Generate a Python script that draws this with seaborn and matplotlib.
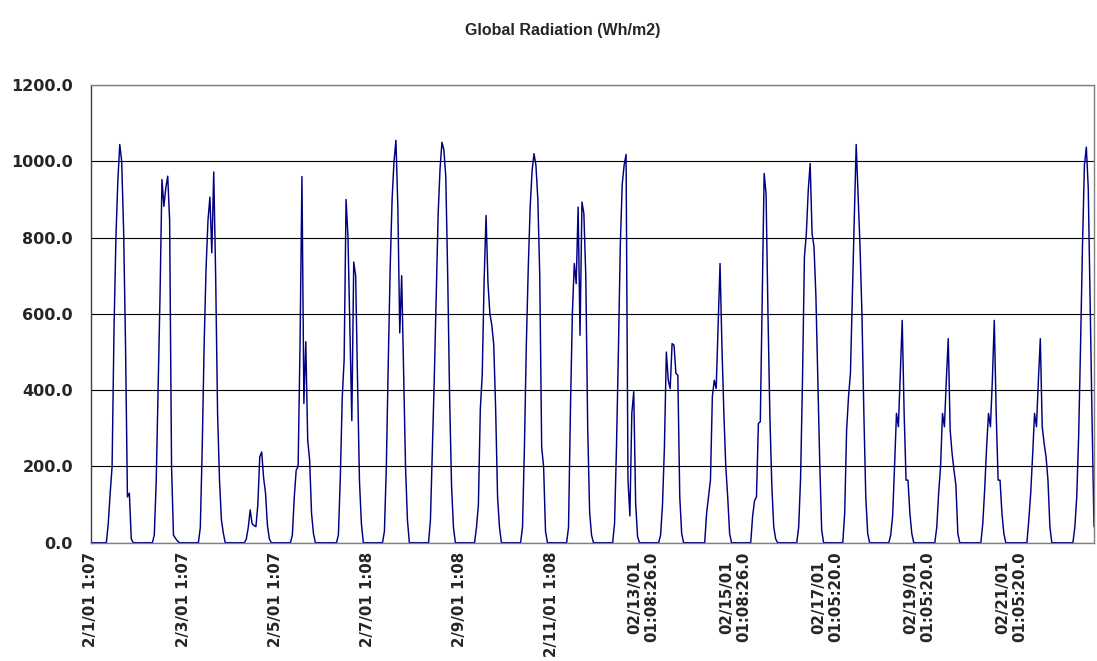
import numpy as np
import pandas as pd
import matplotlib
matplotlib.use("Agg")
import matplotlib.pyplot as plt
import seaborn as sns
from matplotlib.ticker import FormatStrFormatter

# Hourly global radiation (Wh/m2), one list of 24 readings per day starting at ~01:07
feb01 = [0, 0, 0, 0, 0, 0, 0, 0, 0, 50, 130, 200, 560, 800, 950, 1044, 1000, 820, 520, 120, 130, 10, 0, 0]
feb02 = [0, 0, 0, 0, 0, 0, 0, 0, 0, 20, 160, 400, 650, 952, 882, 930, 961, 845, 200, 20, 12, 5, 0, 0]
feb03 = [0, 0, 0, 0, 0, 0, 0, 0, 0, 40, 250, 520, 720, 845, 906, 760, 972, 700, 340, 165, 60, 25, 0, 0]
feb04 = [0, 0, 0, 0, 0, 0, 0, 0, 0, 10, 40, 86, 50, 45, 42, 100, 225, 238, 170, 130, 45, 10, 0, 0]
feb05 = [0, 0, 0, 0, 0, 0, 0, 0, 0, 20, 120, 190, 200, 520, 960, 365, 527, 269, 217, 77, 24, 0, 0, 0]
feb06 = [0, 0, 0, 0, 0, 0, 0, 0, 0, 20, 170, 380, 480, 900, 800, 560, 320, 736, 700, 420, 160, 50, 0, 0]
feb07 = [0, 0, 0, 0, 0, 0, 0, 0, 0, 30, 200, 470, 720, 900, 1000, 1055, 880, 550, 700, 450, 200, 60, 0, 0]
feb08 = [0, 0, 0, 0, 0, 0, 0, 0, 0, 60, 240, 430, 650, 860, 980, 1050, 1030, 960, 700, 380, 150, 40, 0, 0]
feb09 = [0, 0, 0, 0, 0, 0, 0, 0, 0, 40, 100, 350, 440, 690, 858, 680, 600, 570, 520, 350, 120, 40, 0, 0]
feb10 = [0, 0, 0, 0, 0, 0, 0, 0, 0, 40, 250, 520, 720, 880, 975, 1020, 990, 900, 700, 250, 200, 30, 0, 0]
feb11 = [0, 0, 0, 0, 0, 0, 0, 0, 0, 40, 350, 600, 732, 679, 880, 544, 893, 863, 700, 300, 80, 20, 0, 0]
feb12 = [0, 0, 0, 0, 0, 0, 0, 0, 0, 50, 250, 500, 780, 940, 990, 1018, 164, 70, 339, 396, 103, 16, 0, 0]
feb13 = [0, 0, 0, 0, 0, 0, 0, 0, 0, 20, 100, 250, 500, 426, 404, 522, 518, 444, 439, 120, 24, 0, 0, 0]
feb14 = [0, 0, 0, 0, 0, 0, 0, 0, 0, 77, 120, 164, 383, 426, 404, 570, 732, 513, 339, 200, 120, 24, 0, 0]
feb15 = [0, 0, 0, 0, 0, 0, 0, 0, 0, 70, 110, 120, 313, 317, 650, 968, 915, 600, 330, 150, 42, 10, 0, 0]
feb16 = [0, 0, 0, 0, 0, 0, 0, 0, 0, 40, 170, 426, 749, 810, 924, 994, 810, 776, 645, 426, 208, 33, 0, 0]
feb17 = [0, 0, 0, 0, 0, 0, 0, 0, 0, 77, 295, 383, 444, 650, 850, 1044, 906, 776, 600, 339, 120, 24, 0, 0]
feb18 = [0, 0, 0, 0, 0, 0, 0, 0, 0, 20, 70, 200, 339, 304, 440, 583, 339, 164, 164, 77, 24, 0, 0, 0]
feb19 = [0, 0, 0, 0, 0, 0, 0, 0, 0, 40, 130, 200, 339, 304, 426, 535, 295, 234, 190, 150, 24, 0, 0, 0]
feb20 = [0, 0, 0, 0, 0, 0, 0, 0, 0, 50, 140, 250, 339, 304, 426, 583, 339, 164, 164, 77, 24, 0, 0, 0]
feb21 = [0, 0, 0, 0, 0, 0, 0, 0, 0, 59, 130, 230, 339, 304, 426, 535, 304, 260, 225, 164, 42, 0, 0, 0]
feb22 = [0, 0, 0, 0, 0, 0, 0, 0, 0, 40, 120, 280, 520, 780, 990, 1037, 930, 620, 320, 42]

date_labels = [
    "2/1/01 1:07", "2/3/01 1:07", "2/5/01 1:07", "2/7/01 1:08",
    "2/9/01 1:08", "2/11/01 1:08",
    "02/13/01\n01:08:26.0", "02/15/01\n01:08:26.0", "02/17/01\n01:05:20.0",
    "02/19/01\n01:05:20.0", "02/21/01\n01:05:20.0",
]

days = [feb01, feb02, feb03, feb04, feb05, feb06, feb07, feb08, feb09, feb10, feb11,
        feb12, feb13, feb14, feb15, feb16, feb17, feb18, feb19, feb20, feb21, feb22]
radiation = np.concatenate([np.asarray(d, dtype=float) for d in days])
df = pd.DataFrame({"reading": np.arange(len(radiation)), "radiation": radiation})

sns.set_style("white")
plt.rcParams["font.family"] = ["DejaVu Sans"]

fig = plt.figure(figsize=(10.97, 6.61), dpi=100)
W, H = 1097, 661
ax = fig.add_axes([91 / W, 1 - 542.7 / H, (1094 - 91) / W, (542.7 - 85) / H])

sns.lineplot(data=df, x="reading", y="radiation", ax=ax, color="#000080",
             linewidth=1.05, errorbar=None)

ax.set_xlim(0, len(radiation) - 1)
ax.set_ylim(0, 1200)
ax.set_yticks(np.arange(0, 1201, 200))
ax.yaxis.set_major_formatter(FormatStrFormatter("%.1f"))

# one tick per day, a label on every second day
day_ticks = np.arange(0, len(days) * 24, 24)
ax.set_xticks(day_ticks)
labels = []
for i in range(len(day_ticks)):
    labels.append(date_labels[i // 2] if i % 2 == 0 else "")
ax.set_xticklabels(labels, rotation=90, ha="center", va="top",
                   multialignment="center")

ax.yaxis.grid(True, color="black", linewidth=0.8)
ax.xaxis.grid(False)
ax.set_axisbelow(True)
ax.set_xlabel("")
ax.set_ylabel("")

for name, sp in ax.spines.items():
    sp.set_visible(True)
    sp.set_linewidth(1.0)
    sp.set_color("#808080")
ax.spines["left"].set_color("#404040")

ax.tick_params(axis="y", direction="inout", length=8, width=0.8, color="#404040",
               pad=9, labelsize=11.5)
ax.tick_params(axis="x", direction="inout", length=8, width=0.8, color="#808080",
               pad=2.5, labelsize=10.8)
for lab in ax.get_xticklabels() + ax.get_yticklabels():
    lab.set_fontweight("bold")

fig.text(563 / W, 1 - 31 / H, "Global Radiation (Wh/m2)", ha="center", va="center",
         fontsize=11.5, fontweight="bold", family=["Liberation Sans", "DejaVu Sans"])

fig.savefig("out.png", dpi=100, facecolor="white")
